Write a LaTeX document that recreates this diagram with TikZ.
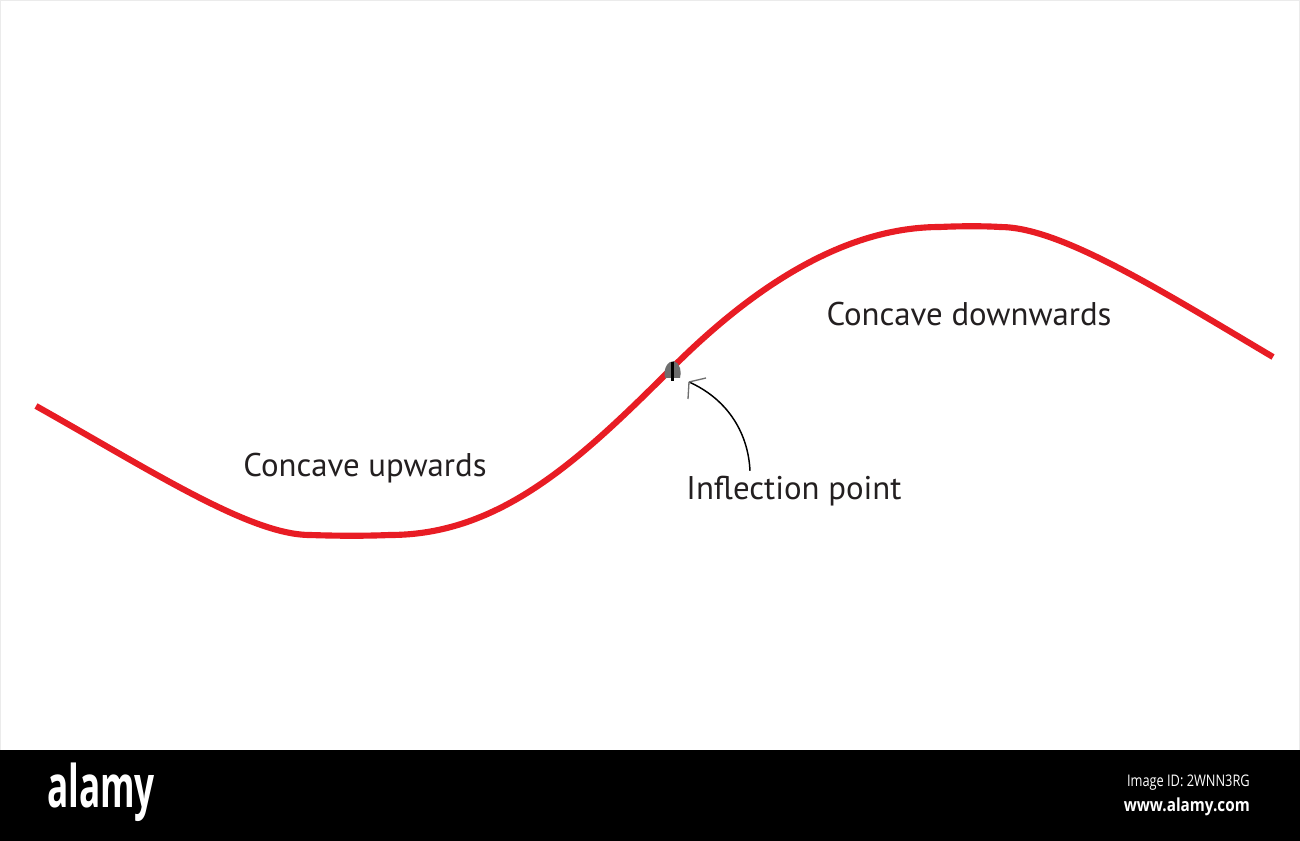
\documentclass[tikz,border=0pt]{standalone}
\usepackage{fontspec}
\setmainfont{PT Sans}
\newfontfamily\barfont{Open Sans}
\definecolor{curvered}{RGB}{232,28,36}
\definecolor{blobgray}{RGB}{110,110,110}
\definecolor{txt}{RGB}{35,31,32}
\tikzset{
  curve/.style={draw=curvered,line width=4.6pt},
  lbl/.style={text=txt,font=\fontsize{24.6pt}{28pt}\selectfont,inner sep=0pt},
  pointer/.style={draw=black,line width=1.1pt},
  headline/.style={draw=blobgray,line width=1pt}
}
\begin{document}
\begin{tikzpicture}[x=0.75pt,y=-0.75pt]
\useasboundingbox (0,0) rectangle (1300,841);
\fill[white] (0,0) rectangle (1300,750);
\draw[black!8,line width=0.75pt] (0.5,0.5) rectangle (1299.5,750);
% curve
\draw[curve] (36,406) .. controls (150,470) and (250,535) .. (310,535)
  .. controls (340,536) and (365,536) .. (390,535)
  .. controls (500,535) and (580,460) .. (672,368)
  .. controls (760,280) and (850,227) .. (940,227)
  .. controls (960,226) and (985,226) .. (1000,227)
  .. controls (1060,227) and (1160,290) .. (1273,357);
% inflection marker
\fill[blobgray] (665,378) .. controls (663,368) and (668,361) .. (674,361) .. controls (680,363) and (682,372) .. (680,378) -- cycle;
\fill[black] (670.5,362) rectangle (674,381);
\coordinate (tip) at (689,382);
% labels
\node[lbl] (up) at (365,468) {Concave upwards};
\node[lbl] (down) at (969,314) {Concave downwards};
\node[lbl] (infl) at (794,491) {Inflection point};
% pointer
\path (infl.north) ++(-44,-5) coordinate (start);
\draw[pointer] (start) .. controls (748,430) and (725,398) .. (tip);
\draw[headline] (tip) -- (706,378);
\draw[headline] (tip) -- (688,399);
% watermark bar
\fill[black] (0,750) rectangle (1300,841);
\node[text=white,font=\barfont\bfseries\fontsize{44pt}{46pt}\selectfont,inner sep=0pt,xscale=0.6] (alamy) at (101,792) {alamy};
\node[text=white,font=\barfont\fontsize{12pt}{14pt}\selectfont,inner sep=0pt,anchor=east,xscale=0.8] (imgid) at (1250,783) {Image ID: 2WNN3RG};
\node[text=white,font=\barfont\bfseries\fontsize{13.5pt}{15pt}\selectfont,inner sep=0pt,anchor=east,xscale=0.85] (www) at (1250,807) {www.alamy.com};
\end{tikzpicture}
\end{document}
